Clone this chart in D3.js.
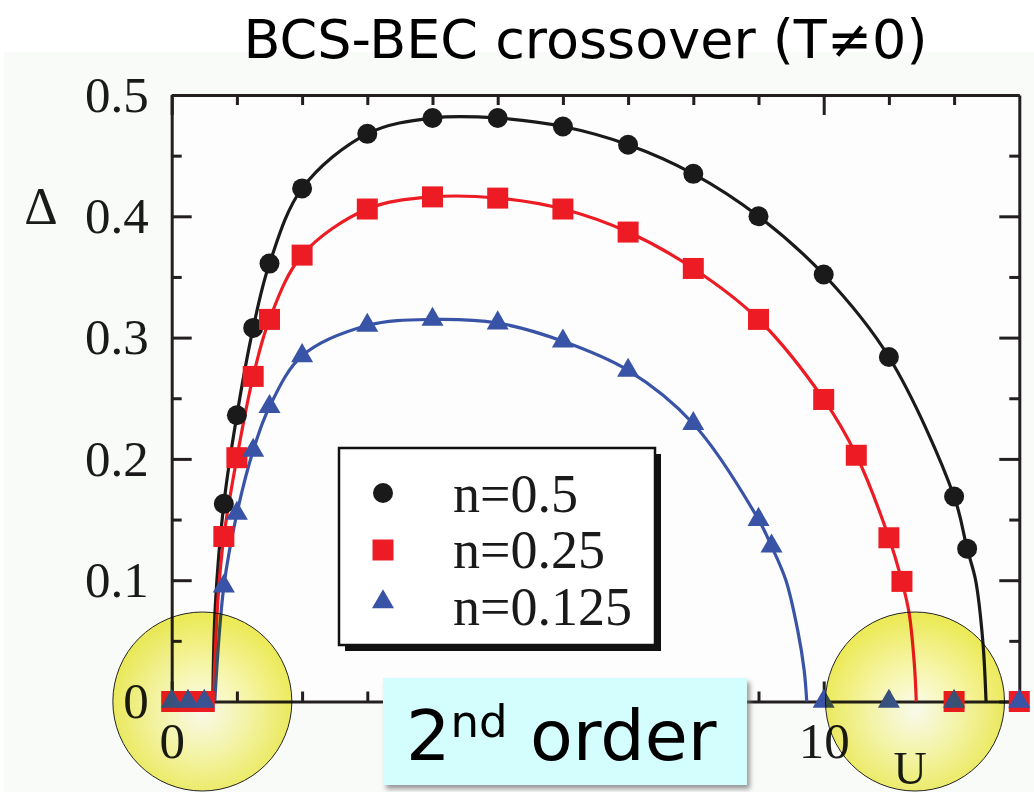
<!DOCTYPE html>
<html>
<head>
<meta charset="utf-8">
<script src="https://cdn.jsdelivr.net/npm/d3@7"></script>
<style>
  html, body { margin: 0; padding: 0; background: #ffffff; }
  svg { display: block; }
</style>
</head>
<body>
<svg id="chart" width="1034" height="792"></svg>
<script>
// ---------------- data ----------------
const titleText = "BCS-BEC crossover (T\u22600)";
const yAxisLabel = "\u0394";
const xAxisLabel = "U";

const yTickValues = [0, 0.1, 0.2, 0.3, 0.4, 0.5];
const yTickLabels = ["0", "0.1", "0.2", "0.3", "0.4", "0.5"];
const yMinorTicks = [0.05, 0.15, 0.25, 0.35, 0.45];
const xTickValues = [0, 10];
const xTickLabels = ["0", "10"];
const xMinorTicks = [1, 2, 3, 4, 5, 6, 7, 8, 9, 11, 12];

const seriesNames = ["n=0.5", "n=0.25", "n=0.125"];

// n = 0.5 (black circles)
const uHalf     = [0, 0.25, 0.5, 0.8, 1.0, 1.25, 1.5, 2, 3, 4, 5, 6, 7, 8, 9, 10, 11, 12, 12.2, 13];
const deltaHalf = [0, 0, 0, 0.163, 0.236, 0.308, 0.361, 0.423, 0.468, 0.481, 0.481, 0.474, 0.459, 0.435, 0.400, 0.352, 0.284, 0.169, 0.126, 0];
// n = 0.25 (red squares)
const uQuarter     = [0, 0.25, 0.5, 0.8, 1.0, 1.25, 1.5, 2, 3, 4, 5, 6, 7, 8, 9, 10, 10.5, 11, 11.2, 12, 13];
const deltaQuarter = [0, 0, 0, 0.136, 0.201, 0.268, 0.315, 0.368, 0.406, 0.416, 0.415, 0.406, 0.387, 0.357, 0.315, 0.249, 0.203, 0.135, 0.099, 0, 0];
// n = 0.125 (blue triangles)
const uEighth     = [0, 0.25, 0.5, 0.8, 1.0, 1.25, 1.5, 2, 3, 4, 5, 6, 7, 8, 9, 9.2, 10, 11, 12, 13];
const deltaEighth = [0, 0, 0, 0.095, 0.155, 0.207, 0.243, 0.285, 0.310, 0.315, 0.312, 0.297, 0.273, 0.229, 0.150, 0.128, 0, 0, 0, 0];

// fitted curves
const fitHalfU      = [0.63, 0.67, 0.8, 1.0, 1.25, 1.5, 2, 3, 4, 5, 6, 7, 8, 9, 10, 11, 12, 12.2, 12.33, 12.44, 12.49];
const fitHalfD      = [0, 0.08, 0.163, 0.236, 0.308, 0.361, 0.423, 0.468, 0.481, 0.481, 0.474, 0.459, 0.435, 0.400, 0.352, 0.284, 0.169, 0.126, 0.10, 0.05, 0];
const fitQuarterU   = [0.64, 0.71, 0.8, 1.0, 1.25, 1.5, 2, 3, 4, 5, 6, 7, 8, 9, 10, 10.5, 11, 11.2, 11.31, 11.39, 11.42];
const fitQuarterD   = [0, 0.085, 0.136, 0.201, 0.268, 0.315, 0.368, 0.406, 0.416, 0.415, 0.406, 0.387, 0.357, 0.315, 0.249, 0.203, 0.135, 0.099, 0.073, 0.031, 0];
const fitEighthU    = [0.66, 0.8, 1.0, 1.25, 1.5, 2, 3, 4, 5, 6, 7, 8, 9, 9.2, 9.42, 9.6, 9.7, 9.74];
const fitEighthD    = [0, 0.095, 0.155, 0.207, 0.243, 0.285, 0.310, 0.315, 0.312, 0.297, 0.273, 0.229, 0.150, 0.128, 0.10, 0.059, 0.026, 0];

// highlight circles (data coords of centres)
const highlightU = [0.47, 11.4];
const highlightD = [0, 0];

const boxText = "2";
const boxSup = "nd";
const boxRest = " order";

// ---------------- drawing ----------------
const svg = d3.select("#chart");
const W = 1034, H = 792;

svg.append("rect").attr("x", 0).attr("y", 0).attr("width", W).attr("height", H).attr("fill", "#ffffff");
svg.append("rect").attr("x", 4).attr("y", 52).attr("width", W - 4).attr("height", H - 52).attr("fill", "#f9fbf9");

const defs = svg.append("defs");
const grad = defs.append("radialGradient").attr("id", "yel").attr("cx", "50%").attr("cy", "55%").attr("r", "52%");
grad.append("stop").attr("offset", "0%").attr("stop-color", "#fefef0");
grad.append("stop").attr("offset", "50%").attr("stop-color", "#f9f7a8");
grad.append("stop").attr("offset", "100%").attr("stop-color", "#efec5a");
const shadow = defs.append("filter").attr("id", "shadow").attr("x", "-10%").attr("y", "-10%").attr("width", "125%").attr("height", "130%");
shadow.append("feDropShadow").attr("dx", 3).attr("dy", 4).attr("stdDeviation", 2.5)
  .attr("flood-color", "#777").attr("flood-opacity", 0.75);

const x = d3.scaleLinear().domain([0, 13]).range([171.7, 1019.3]);
const y = d3.scaleLinear().domain([0, 0.5]).range([701.5, 95]);

const AX = "#231f20";
const serif = "'Liberation Serif', 'Times New Roman', serif";

// title
svg.append("text").attr("x", 585.5).attr("y", 58).attr("text-anchor", "middle")
  .attr("font-family", "'DejaVu Sans', Verdana, sans-serif").attr("font-size", 54)
  .attr("fill", "#000").text(titleText);

// plot area
svg.append("rect").attr("x", x(0)).attr("y", y(0.5)).attr("width", x(13) - x(0)).attr("height", y(0) - y(0.5))
  .attr("fill", "#fcfdfc").attr("stroke", "none");

function styleAxis(g) {
  g.selectAll("path").attr("stroke", AX).attr("stroke-width", 3);
  g.selectAll("line").attr("stroke", AX).attr("stroke-width", 3);
  g.selectAll("text").attr("font-family", serif).attr("font-size", 51).attr("fill", "#1a1a1a");
}

// left axis
const gl = svg.append("g").attr("transform", `translate(${x(0)},0)`)
  .call(d3.axisLeft(y).tickValues(yTickValues).tickSizeInner(-20).tickSizeOuter(0).tickPadding(23)
    .tickFormat((d, i) => yTickLabels[i]));
styleAxis(gl);
const glm = svg.append("g").attr("transform", `translate(${x(0)},0)`)
  .call(d3.axisLeft(y).tickValues(yMinorTicks).tickSizeInner(-10).tickSizeOuter(0).tickFormat(""));
styleAxis(glm); glm.select("path").remove();

// right axis
const gr = svg.append("g").attr("transform", `translate(${x(13)},0)`)
  .call(d3.axisRight(y).tickValues(yTickValues).tickSizeInner(-20).tickSizeOuter(0).tickFormat(""));
styleAxis(gr);
const grm = svg.append("g").attr("transform", `translate(${x(13)},0)`)
  .call(d3.axisRight(y).tickValues(yMinorTicks).tickSizeInner(-10).tickSizeOuter(0).tickFormat(""));
styleAxis(grm); grm.select("path").remove();

// top axis
const gt = svg.append("g").attr("transform", `translate(0,${y(0.5)})`)
  .call(d3.axisTop(x).tickValues(xTickValues).tickSizeInner(-20).tickSizeOuter(0).tickFormat(""));
styleAxis(gt);
const gtm = svg.append("g").attr("transform", `translate(0,${y(0.5)})`)
  .call(d3.axisTop(x).tickValues(xMinorTicks).tickSizeInner(-10).tickSizeOuter(0).tickFormat(""));
styleAxis(gtm); gtm.select("path").remove();

// bottom axis
const gb = svg.append("g").attr("transform", `translate(0,${y(0)})`)
  .call(d3.axisBottom(x).tickValues(xTickValues).tickSizeInner(-20).tickSizeOuter(0).tickPadding(20)
    .tickFormat((d, i) => xTickLabels[i]));
styleAxis(gb);
const gbm = svg.append("g").attr("transform", `translate(0,${y(0)})`)
  .call(d3.axisBottom(x).tickValues(xMinorTicks).tickSizeInner(-10).tickSizeOuter(0).tickFormat(""));
styleAxis(gbm); gbm.select("path").remove();

// axis titles
svg.append("text").attr("x", 41).attr("y", 224).attr("text-anchor", "middle")
  .attr("font-family", serif).attr("font-size", 52).attr("fill", "#1a1a1a").text(yAxisLabel);
svg.append("text").attr("x", 910).attr("y", 784).attr("text-anchor", "middle")
  .attr("font-family", serif).attr("font-size", 46).attr("fill", "#1a1a1a").text(xAxisLabel);

// series
const series = [
  { name: seriesNames[0], u: uHalf, d: deltaHalf, fu: fitHalfU, fd: fitHalfD, color: "#1a1a1a", shape: "circle" },
  { name: seriesNames[1], u: uQuarter, d: deltaQuarter, fu: fitQuarterU, fd: fitQuarterD, color: "#ed1c24", shape: "square" },
  { name: seriesNames[2], u: uEighth, d: deltaEighth, fu: fitEighthU, fd: fitEighthD, color: "#3953a6", shape: "triangle" }
];
const symFor = {
  circle: d3.symbol().type(d3.symbolCircle).size(Math.PI * 10 * 10),
  square: d3.symbol().type(d3.symbolSquare).size(21 * 21),
  triangle: d3.symbol().type(d3.symbolTriangle).size(210)
};
const line = d3.line().x(p => x(p[0])).y(p => y(p[1])).curve(d3.curveCatmullRom.alpha(0.5));

series.forEach(s => {
  const pts = s.fu.map((u, i) => [u, s.fd[i]]);
  svg.append("path").attr("d", line(pts)).attr("fill", "none").attr("stroke", s.color).attr("stroke-width", 3.2);
});
series.forEach(s => {
  svg.append("g").selectAll("path").data(s.u.map((u, i) => [u, s.d[i]])).join("path")
    .attr("transform", p => `translate(${x(p[0])},${y(p[1])})`)
    .attr("d", symFor[s.shape]()).attr("fill", s.color);
});

// legend
const lg = svg.append("g");
lg.append("rect").attr("x", 345).attr("y", 454).attr("width", 316).attr("height", 197).attr("fill", "#111");
lg.append("rect").attr("x", 339).attr("y", 448).attr("width", 316).attr("height", 197)
  .attr("fill", "#ffffff").attr("stroke", "#111").attr("stroke-width", 2.5);
const legY = [493, 550, 602];
const legBase = [512, 568, 625];
series.forEach((s, i) => {
  lg.append("path").attr("transform", `translate(383,${legY[i]})`).attr("d", symFor[s.shape]()).attr("fill", s.color);
  lg.append("text").attr("x", 453).attr("y", legBase[i]).attr("font-family", serif).attr("font-size", 54)
    .attr("fill", "#1a1a1a").text(s.name);
});

// 2nd order box
const bx = svg.append("g");
bx.append("rect").attr("x", 383).attr("y", 678).attr("width", 364).attr("height", 107)
  .attr("fill", "#d4fdfd").attr("filter", "url(#shadow)");
const bt = bx.append("text").attr("x", 406).attr("y", 760).attr("font-family", "'DejaVu Sans', Verdana, sans-serif")
  .attr("font-size", 70).attr("fill", "#000");
bt.append("tspan").text(boxText);
bt.append("tspan").attr("font-size", 45).attr("dy", -23).text(boxSup);
bt.append("tspan").attr("dy", 23).text(boxRest);

// highlight circles
svg.append("g").selectAll("circle").data(highlightU.map((u, i) => [u, highlightD[i]])).join("circle")
  .attr("cx", p => x(p[0])).attr("cy", p => y(p[1])).attr("r", 89.5)
  .attr("fill", "url(#yel)").style("mix-blend-mode", "multiply")
  .attr("stroke", "#222").attr("stroke-width", 1);
</script>
</body>
</html>
